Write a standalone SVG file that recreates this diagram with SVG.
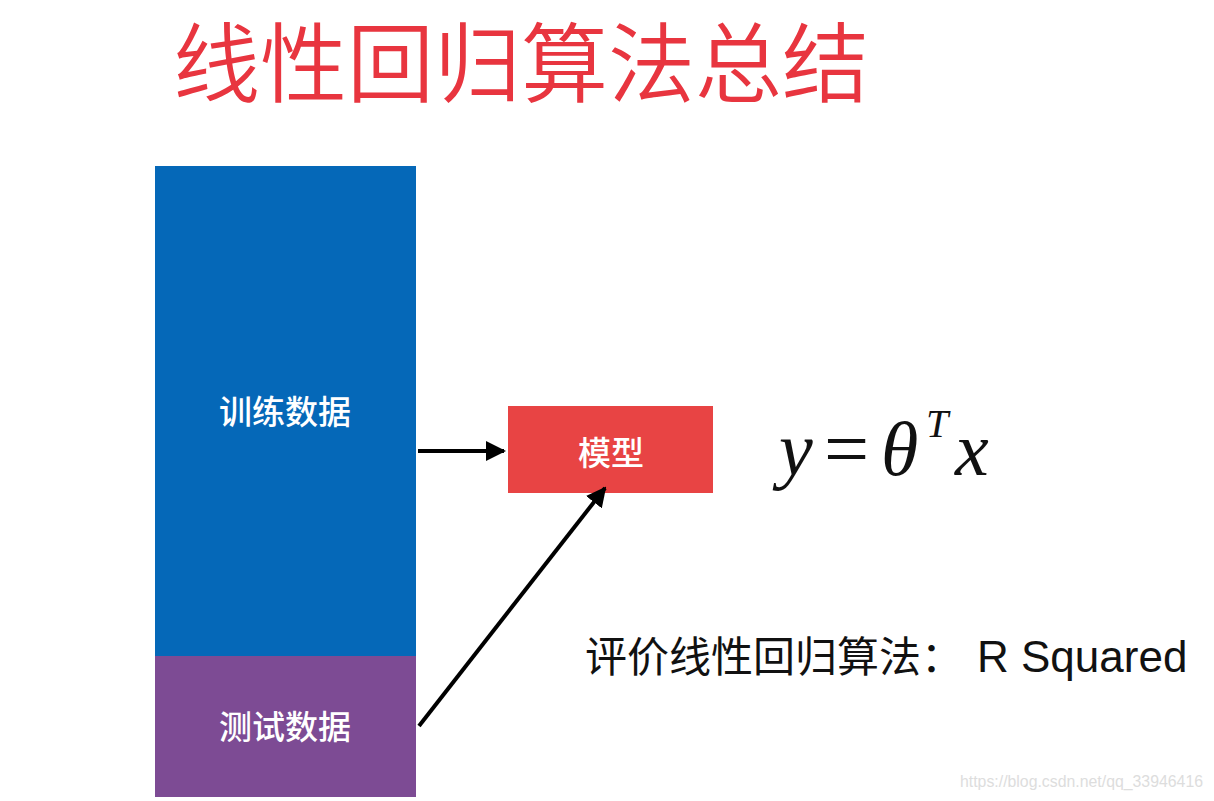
<svg xmlns="http://www.w3.org/2000/svg" width="1214" height="801" viewBox="0 0 1214 801">
  <style>
    .cjk { font-family: "Noto Sans CJK SC", "Noto Sans", sans-serif; }
    .label { font-family: "Noto Sans CJK SC", sans-serif; font-size: 33px; font-weight: 500; fill: #ffffff; text-anchor: middle; }
    .math { font-family: "Liberation Serif", "DejaVu Serif", serif; font-style: italic; fill: #111111; }
    .conn { stroke: #000000; stroke-width: 4; fill: none; }
  </style>
  <defs>
    <marker id="arrow" viewBox="0 0 10 10" refX="9" refY="5" markerWidth="5" markerHeight="5" orient="auto" markerUnits="strokeWidth">
      <path d="M0,0 L10,5 L0,10 z" fill="#000000"/>
    </marker>
  </defs>
  <rect x="0" y="0" width="1214" height="801" fill="#ffffff"/>

  <g id="title">
    <text class="cjk" x="173" y="96" font-size="87" font-weight="350" fill="#e8353f">线性回归算法总结</text>
  </g>

  <g id="train">
    <rect x="155" y="166" width="261" height="490" fill="#0568b8"/>
    <text class="label" x="285" y="424">训练数据</text>
  </g>

  <g id="test">
    <rect x="155" y="656" width="261" height="141" fill="#7d4b94"/>
    <text class="label" x="285" y="739">测试数据</text>
  </g>

  <g id="model">
    <rect x="508" y="406" width="205" height="87" fill="#e84444"/>
    <text class="label" x="611" y="465">模型</text>
  </g>

  <g id="connectors">
    <line class="conn" x1="418" y1="451" x2="504" y2="451" marker-end="url(#arrow)"/>
    <line class="conn" x1="419" y1="726" x2="605" y2="488" marker-end="url(#arrow)"/>
  </g>

  <g id="formula">
    <text class="math" x="779" y="475" font-size="76">y</text>
    <text x="824" y="476" font-size="80" font-family="Liberation Serif, DejaVu Serif, serif" fill="#111111">=</text>
    <text class="math" x="881" y="475" font-size="76">θ</text>
    <text class="math" x="926" y="437" font-size="40">T</text>
    <text class="math" x="955" y="475" font-size="76">x</text>
  </g>

  <g id="evaluation">
    <text x="585" y="672" font-size="42" fill="#111111"><tspan font-family="Noto Sans CJK SC, sans-serif">评价线性回归算法：</tspan><tspan x="977" font-size="44" font-family="Liberation Sans, Arial, sans-serif">R Squared</tspan></text>
  </g>

  <g id="watermark">
    <text x="960" y="787" font-size="16" textLength="243" lengthAdjust="spacingAndGlyphs" font-family="Liberation Sans, Arial, sans-serif" fill="#dddddd">https://blog.csdn.net/qq_33946416</text>
  </g>
</svg>
